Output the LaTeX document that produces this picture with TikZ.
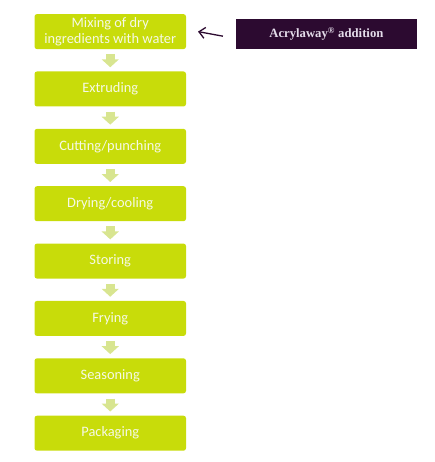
\documentclass[tikz,border=0pt]{standalone}
\usepackage{fontspec}
\setmainfont{Carlito}
\newfontfamily\serifbox{Liberation Serif}
\usetikzlibrary{arrows.meta}
\definecolor{boxgreen}{HTML}{C8DC0A}
\definecolor{arrgreen}{HTML}{D8E590}
\definecolor{darkplum}{HTML}{2C0A30}
\definecolor{boxtext}{HTML}{F6F9E6}
\definecolor{addtext}{HTML}{E4DCEA}
\begin{document}
\begin{tikzpicture}[x=1pt,y=-1pt,
  stepbox/.style={fill=boxgreen, rounded corners=2.5pt, minimum width=151.5pt, minimum height=35pt, inner sep=0pt, text=boxtext, font=\fontsize{14.4}{16}\selectfont, align=center},
  flowarrow/.style={arrgreen, line width=9pt, -{Triangle[width=17pt,length=8pt]}, shorten <=5pt, shorten >=4pt},
  addbox/.style={fill=darkplum, minimum width=180.5pt, minimum height=30pt, inner sep=0pt, text=addtext, font=\serifbox\bfseries\fontsize{12.7}{13}\selectfont}
]
\useasboundingbox (0,0) rectangle (435,462);
\node[stepbox] (s1) at (110.25,31.6) {Mixing of dry\\ingredients with water};
\node[stepbox] (s2) at (110.25,88.97) {Extruding};
\node[stepbox] (s3) at (110.25,146.34) {Cutting/punching};
\node[stepbox] (s4) at (110.25,203.71) {Drying/cooling};
\node[stepbox] (s5) at (110.25,261.08) {Storing};
\node[stepbox] (s6) at (110.25,318.45) {Frying};
\node[stepbox] (s7) at (110.25,375.82) {Seasoning};
\node[stepbox] (s8) at (110.25,433.2) {Packaging};
\foreach \a/\b in {s1/s2,s2/s3,s3/s4,s4/s5,s5/s6,s6/s7,s7/s8}
  \draw[flowarrow] (\a.south) -- (\b.north);
\node[addbox] (add) at (326.4,34) {Acrylaway\textsuperscript{®} addition};
\draw[darkplum, line width=1.3pt, -{Straight Barb[length=6pt,width=11pt]}] ([xshift=-13pt,yshift=-2.2pt]add.west) -- (s1.east -| 198,0);
\end{tikzpicture}
\end{document}
